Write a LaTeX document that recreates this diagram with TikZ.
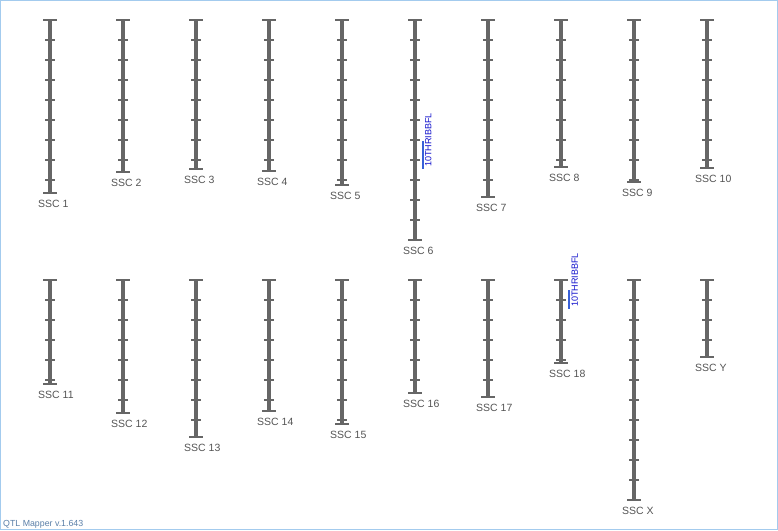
\documentclass[tikz,border=0pt]{standalone}
\usepackage{fontspec}
\setmainfont{Liberation Sans}
\definecolor{chromc}{HTML}{666666}
\definecolor{labc}{HTML}{555555}
\definecolor{mlinec}{HTML}{3860D8}
\definecolor{mtextc}{HTML}{1010CC}
\definecolor{footc}{HTML}{5A7FA8}
\definecolor{framec}{HTML}{A3CBEE}
\tikzset{
  chrombar/.style={draw=chromc, line width=4pt},
  chromtick/.style={draw=chromc, line width=1.1pt},
  chromcap/.style={draw=chromc, line width=1.6pt},
  chromlabel/.style={text=labc, font=\fontsize{10.5}{12}\selectfont, inner sep=0pt, anchor=base west},
  markline/.style={draw=mlinec, line width=1.6pt},
  marktext/.style={text=mtextc, font=\fontsize{9}{10}\selectfont, inner sep=0pt, rotate=90, anchor=north west},
}
\begin{document}
\begin{tikzpicture}[x=1pt,y=-1pt]
\useasboundingbox (0,0) rectangle (778,530);
\fill[white] (0,0) rectangle (778,530);
\draw[framec, line width=1pt] (0.5,0.5) rectangle (777.5,529.5);
% chromosomes: name/x/top/bottom/label
\foreach \n/\x/\t/\b/\l in {
  c1/50/20/193/SSC 1, c2/123/20/172/SSC 2, c3/196/20/169/SSC 3, c4/269/20/171/SSC 4,
  c5/342/20/185/SSC 5, c6/415/20/240/SSC 6, c7/488/20/197/SSC 7, c8/561/20/167/SSC 8,
  c9/634/20/182/SSC 9, c10/707/20/168/SSC 10,
  c11/50/280/384/SSC 11, c12/123/280/413/SSC 12, c13/196/280/437/SSC 13, c14/269/280/411/SSC 14,
  c15/342/280/424/SSC 15, c16/415/280/393/SSC 16, c17/488/280/397/SSC 17, c18/561/280/363/SSC 18,
  cX/634/280/500/SSC X, cY/707/280/357/SSC Y}{
  \coordinate (\n top) at (\x,\t);
  \coordinate (\n bot) at (\x,\b);
  \draw[chrombar] (\n top) -- (\n bot);
  \pgfmathtruncatemacro{\nt}{floor((\b-\t-1)/20)}
  \foreach \k in {1,...,\nt}{
    \draw[chromtick] ([xshift=-5pt,yshift=-20*\k pt]\n top) -- ([xshift=5pt,yshift=-20*\k pt]\n top);
  }
  \draw[chromcap] ([xshift=-7pt]\n top) -- ([xshift=7pt]\n top);
  \draw[chromcap] ([xshift=-7pt]\n bot) -- ([xshift=7pt]\n bot);
  \node[chromlabel] (\n lab) at ([xshift=-12pt,yshift=-14pt]\n bot) {\l};
}
% markers
\coordinate (m6a) at (422.7,141);
\coordinate (m6b) at (422.7,169);
\draw[markline] (m6a) -- (m6b);
\node[marktext] (m6t) at (425,167) {10THRIBBFL};
\coordinate (m18a) at (569,290);
\coordinate (m18b) at (569,309);
\draw[markline] (m18a) -- (m18b);
\node[marktext] (m18t) at (571.5,307) {10THRIBBFL};
% footer
\node[text=footc, font=\fontsize{8.8}{10}\selectfont, inner sep=0pt, anchor=base west] (foot) at (3,526) {QTL Mapper v.1.643};
\end{tikzpicture}
\end{document}
